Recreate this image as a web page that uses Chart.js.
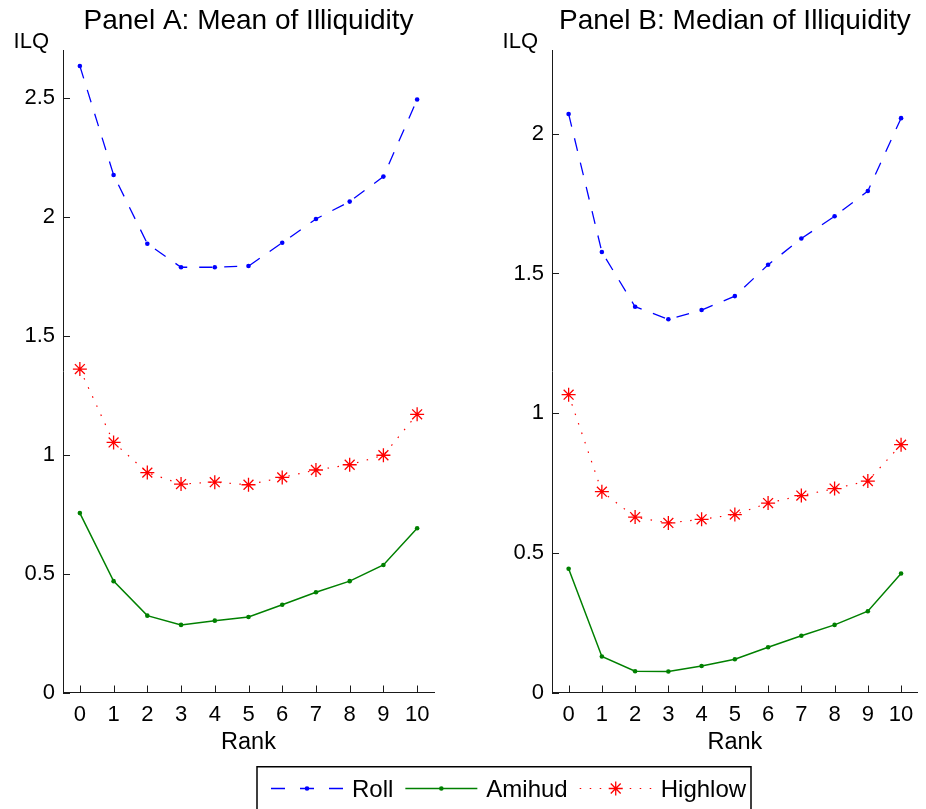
<!DOCTYPE html>
<html>
<head>
<meta charset="utf-8">
<script src="https://cdn.jsdelivr.net/npm/chart.js@4"></script>
<style>
html, body { margin: 0; padding: 0; background: #fff; }
body { width: 926px; height: 809px; position: relative; overflow: hidden; }
canvas { position: absolute; top: 0; }
</style>
</head>
<body>
<canvas id="panelA" width="463" height="760" style="left:0"></canvas>
<canvas id="panelB" width="463" height="760" style="left:463px"></canvas>
<canvas id="legend" width="926" height="54" style="left:0;top:755px"></canvas>
<script>
// ranks on the x axis
const ranks = [0, 1, 2, 3, 4, 5, 6, 7, 8, 9, 10];

// Panel A: mean of illiquidity
const meanRoll    = [2.633, 2.175, 1.886, 1.787, 1.787, 1.792, 1.890, 1.990, 2.063, 2.168, 2.492];
const meanAmihud  = [0.754, 0.468, 0.323, 0.284, 0.302, 0.317, 0.369, 0.421, 0.468, 0.536, 0.690];
const meanHighlow = [1.359, 1.051, 0.924, 0.876, 0.884, 0.873, 0.904, 0.935, 0.957, 0.997, 1.169];

// Panel B: median of illiquidity
const medRoll    = [2.071, 1.577, 1.381, 1.336, 1.369, 1.419, 1.531, 1.625, 1.705, 1.795, 2.056];
const medAmihud  = [0.443, 0.129, 0.076, 0.075, 0.095, 0.119, 0.162, 0.203, 0.242, 0.291, 0.426];
const medHighlow = [1.066, 0.719, 0.628, 0.607, 0.620, 0.637, 0.678, 0.705, 0.730, 0.757, 0.887];

// y tick labels
const ticksA = [0, 0.5, 1, 1.5, 2, 2.5];
const ticksB = [0, 0.5, 1, 1.5, 2];

const family = '"Liberation Sans", Arial, sans-serif';
const axisColor = '#1a1a1a';

// inward tick marks, panel title and the "ILQ" label
const panelDecor = {
    id: 'panelDecor',
    afterDraw(chart, args, opts) {
        const { ctx, chartArea: a, scales: { x, y } } = chart;
        ctx.save();
        ctx.strokeStyle = axisColor;
        ctx.lineWidth = 1;
        ctx.beginPath();
        x.ticks.forEach(t => {
            const px = Math.round(x.getPixelForValue(t.value)) + 0.5;
            ctx.moveTo(px, a.bottom);
            ctx.lineTo(px, a.bottom - 7);
        });
        y.ticks.forEach(t => {
            const py = Math.round(y.getPixelForValue(t.value)) + 0.5;
            ctx.moveTo(a.left, py);
            ctx.lineTo(a.left + 7, py);
        });
        ctx.stroke();

        ctx.fillStyle = '#000';
        ctx.textBaseline = 'alphabetic';
        ctx.font = '28px ' + family;
        ctx.textAlign = 'center';
        ctx.fillText(opts.title, (a.left + a.right) / 2, 29);
        ctx.font = '22px ' + family;
        ctx.textAlign = 'right';
        ctx.fillText(opts.yLabel, a.left - 14, 48);
        ctx.restore();
    }
};

function points(vals) {
    return ranks.map((r, i) => ({ x: r, y: vals[i] }));
}

function makePanel(id, title, roll, amihud, highlow, yMax, yTicks, axisWidth, padRight) {
    return new Chart(document.getElementById(id), {
        type: 'line',
        data: {
            datasets: [
                {
                    label: 'Roll',
                    data: points(roll),
                    borderColor: '#0000ff',
                    backgroundColor: '#0000ff',
                    borderWidth: 1.3,
                    borderDash: [13, 12],
                    pointStyle: 'circle',
                    pointRadius: 2.3,
                    pointBorderWidth: 0,
                    tension: 0
                },
                {
                    label: 'Amihud',
                    data: points(amihud),
                    borderColor: '#008000',
                    backgroundColor: '#008000',
                    borderWidth: 1.5,
                    pointStyle: 'circle',
                    pointRadius: 2.3,
                    pointBorderWidth: 0,
                    tension: 0
                },
                {
                    label: 'Highlow',
                    data: points(highlow),
                    borderColor: '#ff0000',
                    backgroundColor: '#ff0000',
                    borderWidth: 1.2,
                    borderDash: [1.5, 8.5],
                    pointStyle: 'star',
                    pointRadius: 7,
                    pointBorderWidth: 1.3,
                    tension: 0
                }
            ]
        },
        options: {
            responsive: false,
            animation: false,
            events: [],
            layout: { padding: { top: 50, right: padRight, left: 0, bottom: 0 } },
            plugins: {
                legend: { display: false },
                tooltip: { enabled: false },
                panelDecor: { title: title, yLabel: 'ILQ' }
            },
            scales: {
                x: {
                    type: 'linear',
                    min: -0.5,
                    max: 10.5,
                    grid: { display: false, drawTicks: false },
                    border: { display: true, color: axisColor, width: 1 },
                    afterBuildTicks: s => { s.ticks = ranks.map(v => ({ value: v })); },
                    afterFit: s => { s.height = 67.5; },
                    ticks: {
                        padding: 9,
                        color: '#000',
                        maxRotation: 0,
                        font: { size: 22, family: family },
                        callback: v => String(v)
                    },
                    title: {
                        display: true,
                        text: 'Rank',
                        color: '#000',
                        font: { size: 23.5, family: family },
                        padding: { top: 0, bottom: 3 }
                    }
                },
                y: {
                    min: 0,
                    max: yMax,
                    grid: { display: false, drawTicks: false },
                    border: { display: true, color: axisColor, width: 1 },
                    afterBuildTicks: s => { s.ticks = yTicks.map(v => ({ value: v })); },
                    afterFit: s => { s.width = axisWidth; },
                    ticks: {
                        padding: 8,
                        color: '#000',
                        font: { size: 22, family: family },
                        callback: v => String(v)
                    }
                }
            }
        },
        plugins: [panelDecor]
    });
}

makePanel('panelA', 'Panel A: Mean of Illiquidity', meanRoll, meanAmihud, meanHighlow, 2.7, ticksA, 63, 29);
makePanel('panelB', 'Panel B: Median of Illiquidity', medRoll, medAmihud, medHighlow, 2.3, ticksB, 89, 2);

// --- shared legend box under both panels ---
const legendItems = [
    { label: 'Roll', color: '#0000ff', width: 1.3, dash: [14, 15], marker: 'dot' },
    { label: 'Amihud', color: '#008000', width: 1.5, dash: [], marker: 'dot' },
    { label: 'Highlow', color: '#ff0000', width: 1.2, dash: [1.5, 8.5], marker: 'star' }
];

const lctx = document.getElementById('legend').getContext('2d');
lctx.strokeStyle = '#000';
lctx.lineWidth = 1.5;
lctx.strokeRect(257, 11.75, 494, 60);

let lx = 271;
const ly = 33.5;
lctx.font = '24px ' + family;
lctx.textBaseline = 'alphabetic';
legendItems.forEach(item => {
    lctx.save();
    lctx.strokeStyle = item.color;
    lctx.fillStyle = item.color;
    lctx.lineWidth = item.width;
    lctx.setLineDash(item.dash);
    lctx.beginPath();
    lctx.moveTo(lx, ly);
    lctx.lineTo(lx + 72, ly);
    lctx.stroke();
    lctx.setLineDash([]);
    const cx = lx + 36;
    if (item.marker === 'dot') {
        lctx.beginPath();
        lctx.arc(cx, ly, 2.3, 0, Math.PI * 2);
        lctx.fill();
    } else {
        lctx.lineWidth = 1.3;
        lctx.beginPath();
        for (let k = 0; k < 4; k++) {
            const ang = k * Math.PI / 4;
            lctx.moveTo(cx - 7 * Math.cos(ang), ly - 7 * Math.sin(ang));
            lctx.lineTo(cx + 7 * Math.cos(ang), ly + 7 * Math.sin(ang));
        }
        lctx.stroke();
    }
    lctx.restore();
    lctx.fillStyle = '#000';
    lctx.fillText(item.label, lx + 81, 41.5);
    lx += 81 + lctx.measureText(item.label).width + 12;
});
</script>
</body>
</html>
